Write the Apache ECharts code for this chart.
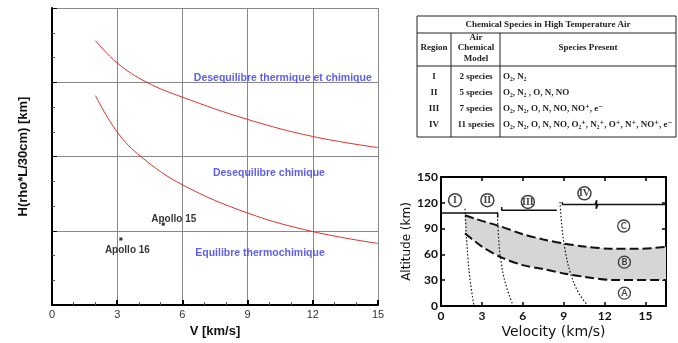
<!DOCTYPE html>
<html>
<head>
<meta charset="utf-8">
<script src="https://cdn.jsdelivr.net/npm/echarts@6/dist/echarts.min.js"></script>
<style>
  html, body { margin: 0; padding: 0; background: #fff; }
  #main { width: 678px; height: 343px; }
</style>
</head>
<body>
<div id="main"></div>
<script>
// ---- left chart: H(rho*L/30cm) vs V ----
const upperCurve = [[2.0, 3.56], [3, 3.26], [4.36, 3.0], [6, 2.8], [9, 2.5], [12, 2.27], [15, 2.12]];
const lowerCurve = [[2.0, 2.82], [3, 2.33], [4.13, 1.99], [6, 1.62], [9, 1.24], [12, 0.99], [15, 0.83]];
const apolloPoints = [['Apollo 15', 5.12, 1.09], ['Apollo 16', 3.17, 0.89]];
const regimeLabels = [
  ['Desequilibre thermique et chimique', 10.62, 3.06],
  ['Desequilibre chimique', 9.98, 1.78],
  ['Equilibre thermochimique', 9.57, 0.70]
];

// ---- bottom right chart: altitude vs velocity ----
const bcUpper = [[1.76, 105.6], [2.5, 101.5], [3, 99], [4.33, 92.8], [6, 83.5], [7.5, 77.4], [9, 72.7], [10.5, 69.2], [12.6, 66.5], [14.5, 66.5], [16.5, 68.8]];
const bcLower = [[1.76, 84.3], [2.5, 75], [3, 69], [4.33, 57.2], [6, 47.5], [7.5, 42.9], [9, 37.9], [10.5, 34], [12.6, 30.2], [16.5, 30.2]];
const dotted1 = [[1.76, 113], [1.85, 85], [1.98, 55], [2.15, 28], [2.42, 0]];
const dotted2 = [[4.13, 109], [4.22, 80], [4.4, 52], [4.75, 25], [5.3, 0]];
const dotted3 = [[8.73, 121], [8.85, 95], [9.1, 65], [9.5, 38], [10.1, 15], [10.8, 0]];
const seg1 = [[0, 108], [4.16, 108], [4.16, 103]];
const seg2 = [[4.45, 115], [4.45, 111.4], [8.49, 111.4]];
const seg3 = [[8.9, 121], [8.9, 118], [11.3, 118], [11.42, 123], [11.38, 113], [11.5, 118], [16.5, 118]];
const regionMarks = [['I', 1.03, 123], ['II', 3.4, 123], ['III', 6.37, 121], ['IV', 10.52, 131]];
const zoneMarks = [['C', 13.4, 93], ['B', 13.45, 51], ['A', 13.45, 15]];

// ---- table (top right) ----
const tableTitle = 'Chemical Species in High Temperature Air';
const tableRegions = ['I', 'II', 'III', 'IV'];
const tableModels = ['2 species', '5 species', '7 species', '11 species'];
const tableSpecies = [
  'O₂, N₂',
  'O₂, N₂ , O, N, NO',
  'O₂, N₂, O, N, NO, NO⁺, e⁻',
  'O₂, N₂, O, N, NO, O₂⁺, N₂⁺, O⁺, N⁺, NO⁺, e⁻'
];

const chart = echarts.init(document.getElementById('main'));

const serif = 'Liberation Serif, DejaVu Serif, serif';
const rowY = [77, 92.5, 108.5, 125];
const cellText = (text, x, y, align) => ({
  type: 'text',
  style: { text: text, x: x, y: y, align: align || 'center', verticalAlign: 'middle', lineHeight: 10.5, fontFamily: serif, fontSize: 9, fontWeight: 'bold', fill: '#222' }
});
const tableGraphic = [
  { type: 'rect', shape: { x: 417, y: 16, width: 259, height: 121 }, style: { fill: 'none', stroke: '#222', lineWidth: 1 } },
  { type: 'line', shape: { x1: 417, y1: 33, x2: 676, y2: 33 }, style: { stroke: '#222', lineWidth: 1 } },
  { type: 'line', shape: { x1: 417, y1: 66, x2: 676, y2: 66 }, style: { stroke: '#222', lineWidth: 1 } },
  { type: 'line', shape: { x1: 451, y1: 33, x2: 451, y2: 137 }, style: { stroke: '#222', lineWidth: 1 } },
  { type: 'line', shape: { x1: 500, y1: 33, x2: 500, y2: 137 }, style: { stroke: '#222', lineWidth: 1 } },
  cellText(tableTitle, 548, 24.5),
  cellText('Region', 434, 48),
  cellText('Air\nChemical\nModel', 476, 48),
  cellText('Species Present', 588, 48)
];
tableRegions.forEach((r, i) => {
  tableGraphic.push(cellText(r, 434, rowY[i]));
  tableGraphic.push(cellText(tableModels[i], 476, rowY[i]));
  tableGraphic.push(cellText(tableSpecies[i], 503, rowY[i], 'left'));
});

const sans = 'Liberation Sans, Arial, sans-serif';
const scanFont = 'Lato, Open Sans, sans-serif';

const option = {
  backgroundColor: '#fff',
  animation: false,
  graphic: tableGraphic,
  grid: [
    { left: 52, right: 300, top: 8, bottom: 34 },
    { left: 441, right: 12, top: 177, bottom: 37 }
  ],
  xAxis: [
    {
      gridIndex: 0, type: 'value', min: 0, max: 15, interval: 3,
      name: 'V [km/s]', nameLocation: 'middle', nameGap: 15,
      nameTextStyle: { fontFamily: sans, fontSize: 13, fontWeight: 'bold', color: '#111' },
      axisLine: { lineStyle: { color: '#000', width: 2 } },
      axisTick: { inside: true, length: 5, lineStyle: { color: '#000', width: 2 } },
      minorTick: { show: true, splitNumber: 3, length: 3, lineStyle: { color: '#555' } },
      splitLine: { show: true, lineStyle: { color: '#888', width: 1 } },
      axisLabel: { fontFamily: sans, fontSize: 11, color: '#333', margin: 4 }
    },
    {
      gridIndex: 1, type: 'value', min: 0, max: 16.5, interval: 3,
      name: 'Velocity (km/s)', nameLocation: 'middle', nameGap: 19,
      nameTextStyle: { fontFamily: 'DejaVu Sans, sans-serif', fontSize: 14, color: '#111' },
      axisLine: { onZero: false, lineStyle: { color: '#000', width: 2 } },
      axisTick: { inside: true, length: 4, lineStyle: { color: '#000', width: 1.5 } },
      splitLine: { show: false },
      axisLabel: { fontFamily: scanFont, fontSize: 12, fontWeight: 'bold', color: '#111', margin: 4, showMaxLabel: false }
    },
    {
      gridIndex: 1, type: 'value', min: 0, max: 16.5, interval: 3, position: 'top',
      axisLine: { onZero: false, lineStyle: { color: '#000', width: 2 } },
      axisTick: { inside: true, length: 4, lineStyle: { color: '#000', width: 1.5 } },
      splitLine: { show: false },
      axisLabel: { show: false }
    }
  ],
  yAxis: [
    {
      gridIndex: 0, type: 'value', min: 0, max: 4, interval: 1,
      name: 'H(rho*L/30cm) [km]', nameLocation: 'middle', nameGap: 22,
      nameTextStyle: { fontFamily: sans, fontSize: 13, fontWeight: 'bold', color: '#111' },
      axisLine: { show: true, lineStyle: { color: '#000', width: 2 } },
      axisTick: { show: true, inside: true, length: 5, lineStyle: { color: '#000', width: 1 } },
      minorTick: { show: true, splitNumber: 3, length: 3, lineStyle: { color: '#555' } },
      splitLine: { show: true, lineStyle: { color: '#888', width: 1 } },
      axisLabel: { show: false }
    },
    {
      gridIndex: 1, type: 'value', min: 0, max: 150, interval: 30,
      name: 'Altitude (km)', nameLocation: 'middle', nameGap: 22,
      nameTextStyle: { fontFamily: 'DejaVu Sans, sans-serif', fontSize: 12, color: '#111' },
      axisLine: { show: true, onZero: false, lineStyle: { color: '#000', width: 2 } },
      axisTick: { show: true, inside: true, length: 4, lineStyle: { color: '#000', width: 1.5 } },
      splitLine: { show: false },
      axisLabel: { fontFamily: scanFont, fontSize: 12, fontWeight: 'bold', color: '#111', margin: 3 }
    },
    {
      gridIndex: 1, type: 'value', min: 0, max: 150, interval: 30, position: 'right',
      axisLine: { show: true, onZero: false, lineStyle: { color: '#000', width: 2 } },
      axisTick: { show: true, inside: true, length: 4, lineStyle: { color: '#000', width: 1.5 } },
      splitLine: { show: false },
      axisLabel: { show: false }
    }
  ],
  series: [
    // left chart
    {
      type: 'line', xAxisIndex: 0, yAxisIndex: 0, data: upperCurve, smooth: 0.4,
      showSymbol: false, lineStyle: { color: '#e03030', width: 1 }
    },
    {
      type: 'line', xAxisIndex: 0, yAxisIndex: 0, data: lowerCurve, smooth: 0.4,
      showSymbol: false, lineStyle: { color: '#e03030', width: 1 }
    },
    {
      type: 'scatter', xAxisIndex: 0, yAxisIndex: 0, symbol: 'rect', symbolSize: 3,
      itemStyle: { color: '#000' },
      data: apolloPoints.map(p => ({ name: p[0], value: [p[1], p[2]] })),
      label: {
        show: true, formatter: '{b}', position: [0, 0], align: 'center', verticalAlign: 'middle',
        fontFamily: sans, fontSize: 10, fontWeight: 'bold', color: '#000'
      },
      labelLayout: function (params) {
        return params.dataIndex === 0 ? { dx: 12, dy: -3 } : { dx: 8, dy: 13 };
      }
    },
    {
      type: 'scatter', xAxisIndex: 0, yAxisIndex: 0, symbolSize: 0,
      data: regimeLabels.map(p => ({ name: p[0], value: [p[1], p[2]] })),
      label: {
        show: true, formatter: '{b}', position: [0, 0], align: 'center', verticalAlign: 'middle',
        fontFamily: sans, fontSize: 10.5, fontWeight: 'bold', color: '#3535f0'
      }
    },
    // bottom right chart: shaded band between the two dashed boundaries
    {
      type: 'custom', xAxisIndex: 1, yAxisIndex: 1, data: [0], silent: true,
      renderItem: function (params, api) {
        const pts = bcUpper.map(p => api.coord(p)).concat(bcLower.slice().reverse().map(p => api.coord(p)));
        return { type: 'polygon', shape: { points: pts }, style: { fill: '#d6d6d6' } };
      }
    },
    {
      type: 'line', xAxisIndex: 1, yAxisIndex: 1, data: bcUpper, smooth: 0.3, showSymbol: false,
      lineStyle: { color: '#111', width: 2, type: [9, 4] }
    },
    {
      type: 'line', xAxisIndex: 1, yAxisIndex: 1, data: bcLower, smooth: 0.3, showSymbol: false,
      lineStyle: { color: '#111', width: 2, type: [9, 4] }
    },
    ...[dotted1, dotted2, dotted3].map(d => ({
      type: 'line', xAxisIndex: 1, yAxisIndex: 1, data: d, smooth: 0.4, showSymbol: false,
      lineStyle: { color: '#111', width: 1.2, type: [1.5, 2] }
    })),
    ...[seg1, seg2, seg3].map(d => ({
      type: 'line', xAxisIndex: 1, yAxisIndex: 1, data: d, showSymbol: false,
      lineStyle: { color: '#111', width: 1.5 }
    })),
    {
      type: 'scatter', xAxisIndex: 1, yAxisIndex: 1, symbol: 'circle', symbolSize: 13,
      itemStyle: { color: '#fff', borderColor: '#111', borderWidth: 1.5 },
      data: regionMarks.map(p => ({ name: p[0], value: [p[1], p[2]] })),
      label: { show: true, position: 'inside', formatter: '{b}', fontFamily: serif, fontSize: 10, fontWeight: 'bold', color: '#111' }
    },
    {
      type: 'scatter', xAxisIndex: 1, yAxisIndex: 1, symbol: 'circle', symbolSize: 12,
      itemStyle: { color: 'rgba(255,255,255,0)', borderColor: '#111', borderWidth: 1.3 },
      data: zoneMarks.map(p => ({ name: p[0], value: [p[1], p[2]] })),
      label: { show: true, position: 'inside', formatter: '{b}', fontFamily: scanFont, fontSize: 9, fontWeight: 'bold', color: '#111' }
    }
  ]
};

chart.setOption(option);
</script>
</body>
</html>
